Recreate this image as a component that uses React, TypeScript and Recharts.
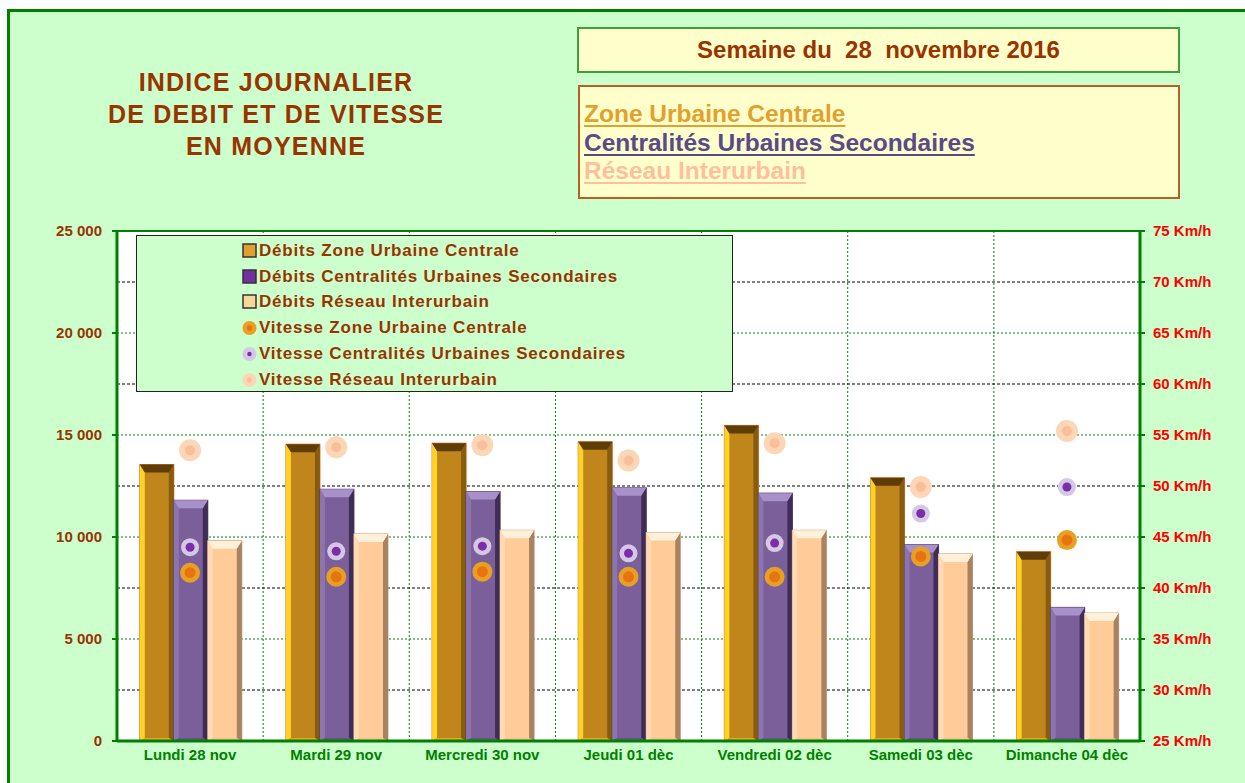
import { Bar, CartesianGrid, ComposedChart, Line, ReferenceLine, XAxis, YAxis } from 'recharts';

const DAYS = ['Lundi 28 nov', 'Mardi 29 nov', 'Mercredi 30 nov', 'Jeudi 01 dèc', 'Vendredi 02 dèc', 'Samedi 03 dèc', 'Dimanche 04 dèc'];

const DEBIT_ZUC = [13550, 14550, 14600, 14670, 15470, 12900, 9280];
const DEBIT_CUS = [11800, 12340, 12230, 12410, 12150, 9630, 6550];
const DEBIT_RI = [9820, 10150, 10330, 10220, 10330, 9170, 6270];

const VITESSE_ZUC = [41.5, 41.1, 41.6, 41.1, 41.1, 43.1, 44.7];
const VITESSE_CUS = [44.0, 43.6, 44.1, 43.4, 44.4, 47.3, 49.9];
const VITESSE_RI = [53.5, 53.8, 54.0, 52.5, 54.2, 49.9, 55.4];

const LEFT_MAX = 25000;
const LEFT_TICKS = [0, 5000, 10000, 15000, 20000, 25000];
const MINOR_TICKS = [2500, 7500, 12500, 17500, 22500];
const RIGHT_TICKS = [25, 30, 35, 40, 45, 50, 55, 60, 65, 70, 75];

const LEGEND_NAMES = [
    'Débits Zone Urbaine Centrale',
    'Débits Centralités Urbaines Secondaires',
    'Débits Réseau Interurbain',
    'Vitesse Zone Urbaine Centrale',
    'Vitesse Centralités Urbaines Secondaires',
    'Vitesse Réseau Interurbain',
];

const FONT = "'Liberation Sans', Arial, sans-serif";
const BROWN = '#993300';
const GREEN = '#008000';

const data = DAYS.map((day, i) => ({
    day,
    dZuc: DEBIT_ZUC[i],
    dCus: DEBIT_CUS[i],
    dRi: DEBIT_RI[i],
    vZuc: VITESSE_ZUC[i],
    vCus: VITESSE_CUS[i],
    vRi: VITESSE_RI[i],
}));

type Pal = { main: string; left: string; right: string; top: string; bottom: string; edge: string };

const PAL_ZUC: Pal = { main: '#C0861C', left: '#FFD323', right: '#875C0E', top: '#5E3D07', bottom: '#E8A820', edge: '#E07030' };
const PAL_CUS: Pal = { main: '#7B5F9A', left: '#8E74AE', right: '#3F2D57', top: '#A890CA', bottom: '#6E5290', edge: '#4A3A60' };
const PAL_RI: Pal = { main: '#FFCC99', left: '#FFDAB4', right: '#A98262', top: '#FFF0DA', bottom: '#F5C292', edge: '#C8A080' };

function BevelBar(props: any) {
    const { x, y, width: w, height: h, pal } = props;
    if (!h || h <= 0) return null;
    const b = 5;
    const t = 8;
    return (
        <g>
            <rect x={x} y={y} width={w} height={h} fill={pal.main} stroke={pal.edge} strokeWidth={1} />
            <polygon points={`${x},${y} ${x + b},${y + t} ${x + b},${y + h - 3} ${x},${y + h}`} fill={pal.left} />
            <polygon points={`${x + w},${y} ${x + w - b},${y + t} ${x + w - b},${y + h - 3} ${x + w},${y + h}`} fill={pal.right} />
            <polygon points={`${x},${y} ${x + w},${y} ${x + w - b},${y + t} ${x + b},${y + t}`} fill={pal.top} />
            <polygon points={`${x},${y + h} ${x + w},${y + h} ${x + w - b},${y + h - 3} ${x + b},${y + h - 3}`} fill={pal.bottom} />
        </g>
    );
}

type DotStyle = { outer: string; inner: string; ro: number; ri: number };
const DOT_ZUC: DotStyle = { outer: '#E6A024', inner: '#E8730F', ro: 10, ri: 5.5 };
const DOT_CUS: DotStyle = { outer: '#D6C7E4', inner: '#7A2FA8', ro: 9, ri: 4.5 };
const DOT_RI: DotStyle = { outer: '#FDD6B8', inner: '#F8BF98', ro: 11, ri: 5 };

function makeDot(s: DotStyle) {
    return (p: any) => {
        if (p.cx == null || p.cy == null) return <g key={p.index} />;
        return (
            <g key={`d-${p.index}`}>
                <circle cx={p.cx} cy={p.cy} r={s.ro} fill={s.outer} />
                <circle cx={p.cx} cy={p.cy} r={s.ri} fill={s.inner} />
            </g>
        );
    };
}

function fmtThousands(v: number): string {
    return String(v).replace(/\B(?=(\d{3})+(?!\d))/g, ' ');
}

// black dashed lines between the labelled ticks
function minorGridY({ yAxis, offset }: any): number[] {
    const s = yAxis?.scale;
    if (typeof s === 'function') return MINOR_TICKS.map((v) => s(v));
    return MINOR_TICKS.map((v) => offset.top + offset.height * (1 - v / LEFT_MAX));
}

function LegendMarker({ idx }: { idx: number }) {
    const squares = ['#E0A030', '#7030A0', '#F8D898'];
    const dots = [DOT_ZUC, DOT_CUS, DOT_RI];
    if (idx < 3) {
        return (
            <svg width={16} height={16} style={{ flex: 'none' }}>
                <rect x={1} y={1} width={13} height={13} fill={squares[idx]} stroke="#333" strokeWidth={1.5} />
            </svg>
        );
    }
    const d = dots[idx - 3];
    return (
        <svg width={16} height={16} style={{ flex: 'none' }}>
            <circle cx={7.5} cy={8} r={7} fill={d.outer} />
            <circle cx={7.5} cy={8} r={d.ri * 0.5} fill={d.inner} />
        </svg>
    );
}

export default function App() {
    return (
        <div style={{ position: 'absolute', left: 0, top: 0, width: 1245, height: 783, overflow: 'hidden', background: '#fff', fontFamily: FONT }}>
            <div
                style={{
                    position: 'absolute',
                    left: 7,
                    top: 9,
                    width: 1260,
                    height: 800,
                    background: '#CCFFCC',
                    borderLeft: `3px solid ${GREEN}`,
                    borderTop: `3px solid ${GREEN}`,
                }}
            />

            <div
                style={{
                    position: 'absolute',
                    left: 76,
                    top: 66,
                    width: 400,
                    textAlign: 'center',
                    color: BROWN,
                    fontWeight: 'bold',
                    fontSize: 25,
                    letterSpacing: 1.2,
                    lineHeight: '32px',
                }}
            >
                INDICE JOURNALIER
                <br />
                DE DEBIT ET DE VITESSE
                <br />
                EN MOYENNE
            </div>

            <div
                style={{
                    position: 'absolute',
                    left: 577,
                    top: 27,
                    width: 599,
                    height: 42,
                    background: '#FFFFCC',
                    border: '2px solid #3CA03C',
                    textAlign: 'center',
                    lineHeight: '42px',
                    color: BROWN,
                    fontWeight: 'bold',
                    fontSize: 24,
                    whiteSpace: 'pre',
                }}
            >
                {'Semaine du  28  novembre 2016'}
            </div>

            <div
                style={{
                    position: 'absolute',
                    left: 578,
                    top: 85,
                    width: 602,
                    height: 114,
                    background: '#FFFFCC',
                    border: '2px solid #B5602A',
                    fontWeight: 'bold',
                    fontSize: 24.5,
                    lineHeight: '28.5px',
                    paddingTop: 13,
                    boxSizing: 'border-box',
                    paddingLeft: 4,
                }}
            >
                {[
                    ['Zone Urbaine Centrale', '#E3A02E'],
                    ['Centralités Urbaines Secondaires', '#5A4A8A'],
                    ['Réseau Interurbain', '#FFBF9F'],
                ].map(([t, c]) => (
                    <div key={t} style={{ color: c, textDecoration: 'underline', textDecorationThickness: 2, textUnderlineOffset: 3 }}>
                        {t}
                    </div>
                ))}
            </div>

            <div style={{ position: 'absolute', left: 0, top: 0 }}>
                <ComposedChart
                    width={1245}
                    height={783}
                    data={data}
                    margin={{ top: 231, right: 25, bottom: 12, left: 57 }}
                    barGap={0}
                    barCategoryGap="15.6%"
                >
                    <CartesianGrid
                        yAxisId="left"
                        fill="#FFFFFF"
                        stroke={GREEN}
                        strokeDasharray="2 2"
                        verticalCoordinatesGenerator={({ offset }: any) =>
                            [1, 2, 3, 4, 5, 6].map((i) => offset.left + (offset.width * i) / DAYS.length)
                        }
                    />
                    <CartesianGrid
                        yAxisId="left"
                        vertical={false}
                        stroke="#000000"
                        strokeDasharray="3 2"
                        horizontalCoordinatesGenerator={minorGridY}
                    />
                    <XAxis
                        dataKey="day"
                        tick={{ fill: GREEN, fontSize: 15, fontWeight: 'bold', fontFamily: FONT }}
                        tickLine={false}
                        axisLine={{ stroke: GREEN, strokeWidth: 3 }}
                        height={30}
                        interval={0}
                    />
                    <YAxis
                        yAxisId="left"
                        domain={[0, LEFT_MAX]}
                        ticks={LEFT_TICKS}
                        tickFormatter={fmtThousands}
                        tick={{ fill: BROWN, fontSize: 15, fontWeight: 'bold', fontFamily: FONT }}
                        axisLine={{ stroke: GREEN, strokeWidth: 3 }}
                        tickLine={{ stroke: GREEN, strokeWidth: 2 }}
                        tickSize={5}
                        tickMargin={10}
                        width={60}
                    />
                    <YAxis
                        yAxisId="right"
                        orientation="right"
                        domain={[25, 75]}
                        ticks={RIGHT_TICKS}
                        tickFormatter={(v: number) => `${v} Km/h`}
                        tick={{ fill: '#FF0000', fontSize: 15, fontWeight: 'bold', fontFamily: FONT }}
                        axisLine={{ stroke: GREEN, strokeWidth: 3 }}
                        tickLine={{ stroke: GREEN, strokeWidth: 2 }}
                        tickSize={5}
                        tickMargin={8}
                        width={80}
                    />
                    <ReferenceLine yAxisId="left" y={LEFT_MAX} stroke={GREEN} strokeWidth={2} />
                    <Bar yAxisId="left" dataKey="dZuc" isAnimationActive={false} shape={(p: any) => <BevelBar {...p} pal={PAL_ZUC} />} />
                    <Bar yAxisId="left" dataKey="dCus" isAnimationActive={false} shape={(p: any) => <BevelBar {...p} pal={PAL_CUS} />} />
                    <Bar yAxisId="left" dataKey="dRi" isAnimationActive={false} shape={(p: any) => <BevelBar {...p} pal={PAL_RI} />} />
                    <Line yAxisId="right" dataKey="vRi" stroke="none" dot={makeDot(DOT_RI)} activeDot={false} isAnimationActive={false} />
                    <Line yAxisId="right" dataKey="vCus" stroke="none" dot={makeDot(DOT_CUS)} activeDot={false} isAnimationActive={false} />
                    <Line yAxisId="right" dataKey="vZuc" stroke="none" dot={makeDot(DOT_ZUC)} activeDot={false} isAnimationActive={false} />
                </ComposedChart>
            </div>

            <div
                style={{
                    position: 'absolute',
                    left: 136,
                    top: 235,
                    width: 597,
                    height: 157,
                    boxSizing: 'border-box',
                    background: '#CCFFCC',
                    border: '1.5px solid #222',
                    paddingTop: 2,
                    paddingLeft: 105,
                }}
            >
                {LEGEND_NAMES.map((name, i) => (
                    <div
                        key={name}
                        style={{
                            display: 'flex',
                            alignItems: 'center',
                            height: 25.8,
                            color: BROWN,
                            fontWeight: 'bold',
                            fontSize: 17,
                            letterSpacing: 0.8,
                            whiteSpace: 'nowrap',
                        }}
                    >
                        <LegendMarker idx={i} />
                        <span style={{ marginLeft: 1 }}>{name}</span>
                    </div>
                ))}
            </div>
        </div>
    );
}
